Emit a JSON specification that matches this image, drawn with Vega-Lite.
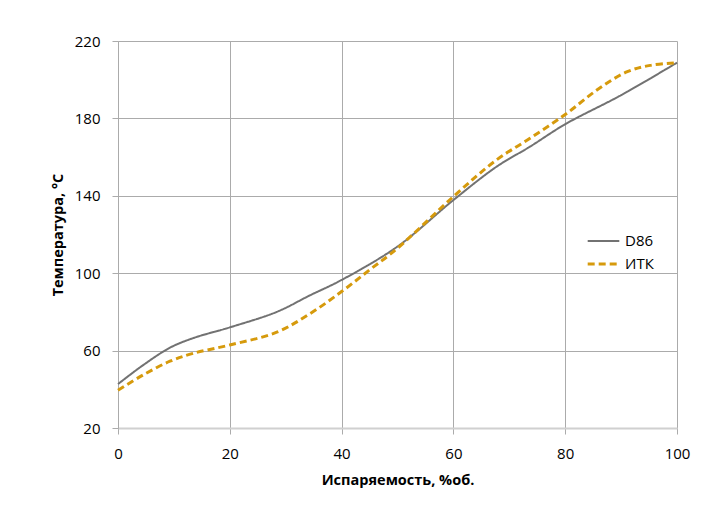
{
  "$schema": "https://vega.github.io/schema/vega-lite/v6.json",
  "width": 559,
  "height": 387,
  "autosize": {"type": "none"},
  "padding": {"left": 118, "top": 41, "right": 43, "bottom": 77},
  "background": "white",
  "config": {
    "font": "Open Sans",
    "view": {"stroke": null},
    "axis": {
      "labelFont": "Open Sans",
      "labelFontSize": 15,
      "labelColor": "#000000",
      "labelFlush": false,
      "titleFont": "Open Sans",
      "titleFontSize": 14.5,
      "titleFontWeight": "bold",
      "titleColor": "#000000",
      "gridColor": "#ababab",
      "gridWidth": 1,
      "tickColor": "#ababab",
      "tickSize": 6,
      "domainColor": "#ababab"
    }
  },
  "data": {
    "values": [
      {"x": 0, "t": 42.7, "s": "D86"},
      {"x": 4.5, "t": 52.5, "s": "D86"},
      {"x": 9.3, "t": 61.5, "s": "D86"},
      {"x": 13.5, "t": 66.5, "s": "D86"},
      {"x": 20, "t": 72, "s": "D86"},
      {"x": 28.4, "t": 80, "s": "D86"},
      {"x": 34.3, "t": 88.5, "s": "D86"},
      {"x": 40, "t": 96.5, "s": "D86"},
      {"x": 50, "t": 113.8, "s": "D86"},
      {"x": 60, "t": 137.8, "s": "D86"},
      {"x": 67.7, "t": 155, "s": "D86"},
      {"x": 73.7, "t": 165.4, "s": "D86"},
      {"x": 80, "t": 177, "s": "D86"},
      {"x": 90, "t": 192, "s": "D86"},
      {"x": 100, "t": 208.8, "s": "D86"},
      {"x": 0, "t": 39.5, "s": "ИТК"},
      {"x": 4.5, "t": 47.4, "s": "ИТК"},
      {"x": 9.3, "t": 54.5, "s": "ИТК"},
      {"x": 13.5, "t": 58.6, "s": "ИТК"},
      {"x": 20, "t": 62.9, "s": "ИТК"},
      {"x": 28.4, "t": 69.5, "s": "ИТК"},
      {"x": 34.3, "t": 79, "s": "ИТК"},
      {"x": 40, "t": 90.5, "s": "ИТК"},
      {"x": 45, "t": 101.7, "s": "ИТК"},
      {"x": 50, "t": 112.9, "s": "ИТК"},
      {"x": 60, "t": 139.6, "s": "ИТК"},
      {"x": 67.7, "t": 158.5, "s": "ИТК"},
      {"x": 73.7, "t": 169.7, "s": "ИТК"},
      {"x": 80, "t": 182, "s": "ИТК"},
      {"x": 85.6, "t": 194.5, "s": "ИТК"},
      {"x": 91, "t": 204, "s": "ИТК"},
      {"x": 95.2, "t": 207.4, "s": "ИТК"},
      {"x": 100, "t": 208.8, "s": "ИТК"}
    ]
  },
  "mark": {"type": "line", "interpolate": "catmull-rom"},
  "encoding": {
    "x": {
      "field": "x",
      "type": "quantitative",
      "scale": {"domain": [0, 100], "nice": false},
      "axis": {
        "values": [0, 20, 40, 60, 80, 100],
        "title": "Испаряемость, %об.",
        "labelPadding": 12,
        "titlePadding": 12,
        "domainColor": "#d0d0d0",
        "domainWidth": 2
      }
    },
    "y": {
      "field": "t",
      "type": "quantitative",
      "scale": {"domain": [20, 220], "nice": false, "zero": false},
      "axis": {
        "values": [20, 60, 100, 140, 180, 220],
        "title": "Температура, °С",
        "labelPadding": 12,
        "titlePadding": 9
      }
    },
    "color": {
      "field": "s",
      "type": "nominal",
      "scale": {"domain": ["D86", "ИТК"], "range": ["#727272", "#d69a0c"]},
      "legend": {
        "title": null,
        "orient": "none",
        "legendX": 468,
        "legendY": 190,
        "symbolType": "stroke",
        "symbolSize": 1000,
        "symbolStrokeWidth": 2.5,
        "labelFontSize": 15,
        "labelFont": "Open Sans",
        "labelColor": "#000000",
        "clipHeight": 20,
        "rowPadding": 3,
        "labelOffset": 4
      }
    },
    "strokeDash": {
      "field": "s",
      "type": "nominal",
      "scale": {"domain": ["D86", "ИТК"], "range": [[1, 0], [7, 4]]},
      "legend": null
    },
    "strokeWidth": {
      "field": "s",
      "type": "nominal",
      "scale": {"domain": ["D86", "ИТК"], "range": [2, 3]},
      "legend": null
    }
  }
}
